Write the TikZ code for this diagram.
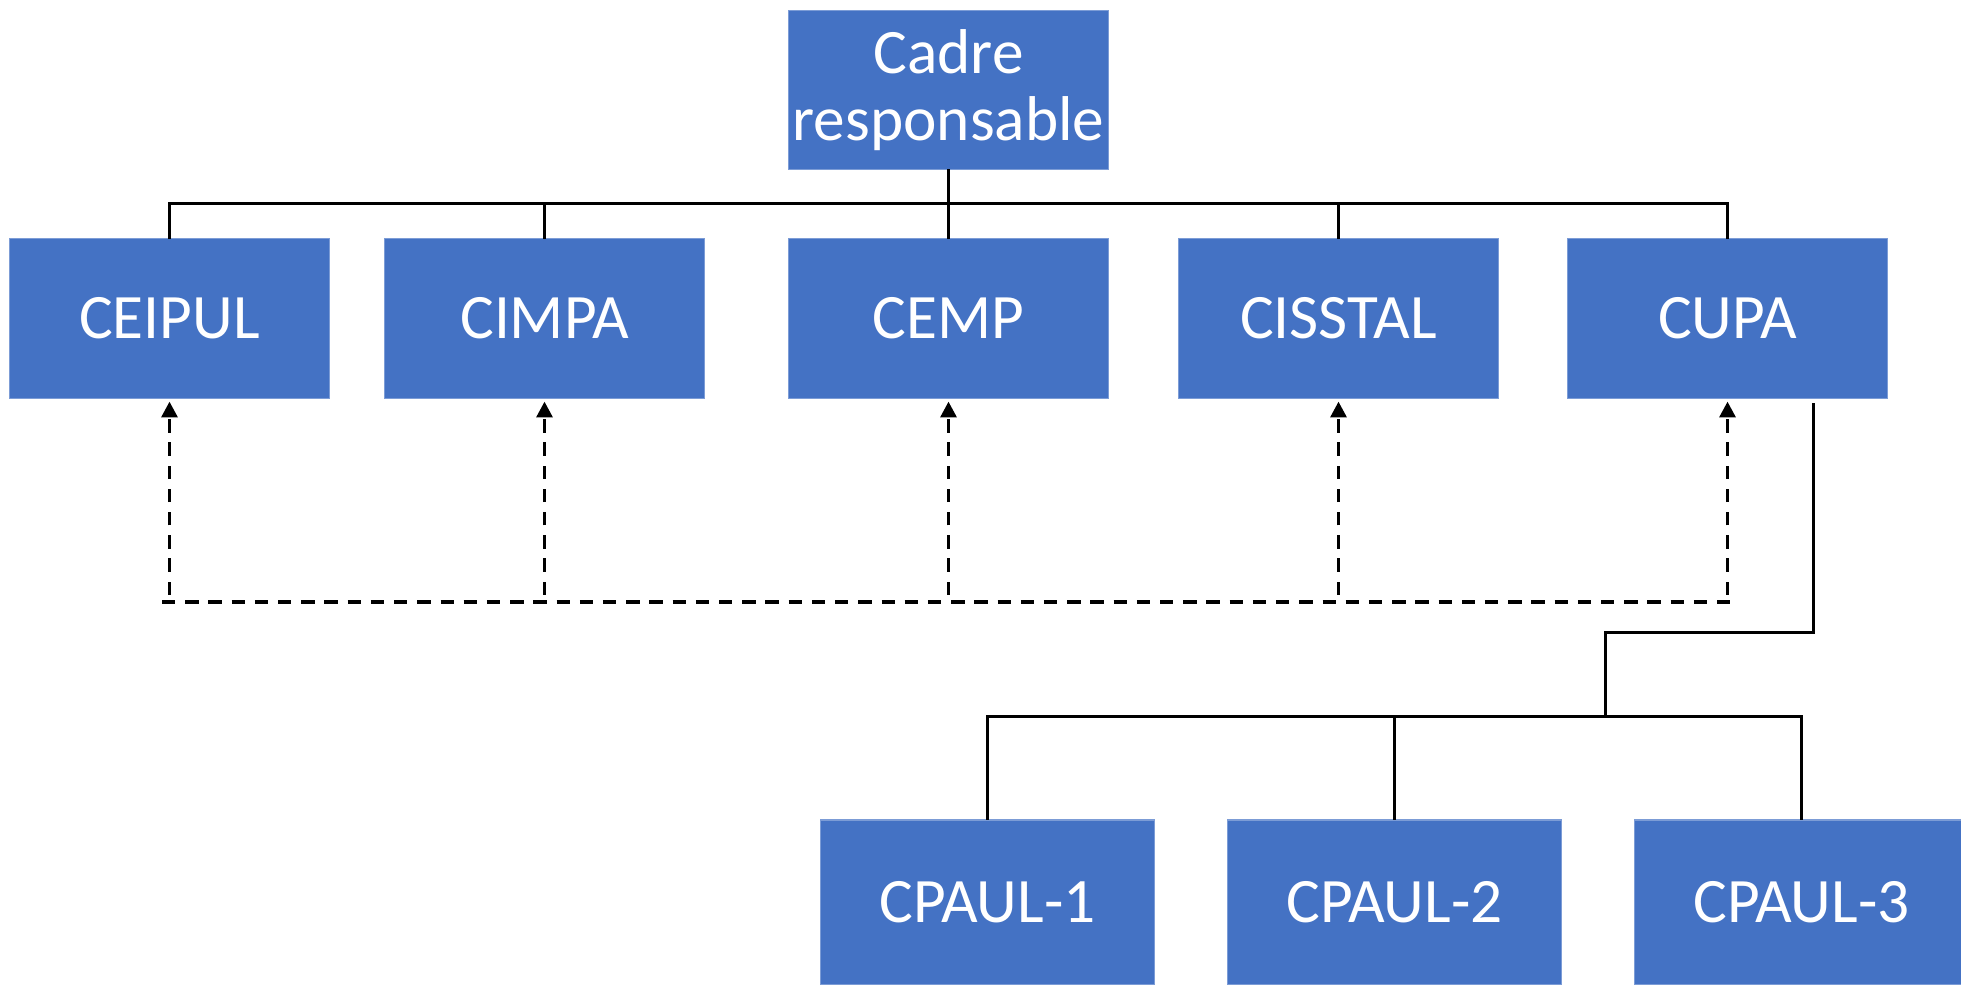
\documentclass[tikz,border=0pt]{standalone}
\usepackage{fontspec}
\setmainfont{Carlito}
\usepackage{tikz}
\usetikzlibrary{arrows.meta}
\definecolor{unitblue}{HTML}{4472C4}
\tikzset{
  blk/.style={fill=unitblue,draw=unitblue!70!white,line width=0.3pt,text=white,
    font=\fontsize{18}{19}\selectfont,align=center,inner sep=0pt,outer sep=0pt,
    minimum width=3.19cm,minimum height=1.59cm},
  link/.style={line width=0.85pt,black},
  dlink/.style={line width=1pt,black,dash pattern=on 3.8pt off 2.8pt},
}
\begin{document}
\begin{tikzpicture}[x=0.01cm,y=-0.01cm]
  \useasboundingbox (0,0) rectangle (1961,984);
  \node[blk,minimum height=1.58cm] (cadre) at (948.5,90) {Cadre\\responsable};
  \node[blk] (ceipul)  at (169.5,318.5) {CEIPUL};
  \node[blk] (cimpa)   at (544.5,318.5) {CIMPA};
  \node[blk] (cemp)    at (948.5,318.5) {CEMP};
  \node[blk] (cisstal) at (1338.5,318.5) {CISSTAL};
  \node[blk] (cupa)    at (1727.5,318.5) {CUPA};
  \node[blk,minimum width=3.33cm,minimum height=1.64cm] (cpaul1) at (987.5,902) {CPAUL-1};
  \node[blk,minimum width=3.33cm,minimum height=1.64cm] (cpaul2) at (1394.5,902) {CPAUL-2};
  \node[blk,minimum width=3.33cm,minimum height=1.64cm] (cpaul3) at (1801.5,902) {CPAUL-3};
  % hierarchy
  \draw[link] (ceipul.north) -- ++(0,-35) -| (cupa.north);
  \foreach \n in {cimpa,cisstal}
    \draw[link] (\n.north) -- ++(0,-35);
  \draw[link] (cadre.south) -- (cemp.north);
  % coordination
  \coordinate (dl) at (162,602);
  \coordinate (dr) at (1731,602);
  \draw[dlink] (dl) -- (dr);
  \foreach \n in {ceipul,cimpa,cemp,cisstal,cupa}
    \draw[dlink,-{Triangle[length=4.5pt,width=4.5pt]},shorten >=1pt,shorten <=2pt] (\n.south |- dl) -- (\n.south);
  % sub units of CUPA
  \coordinate (cupaout) at (1813,403);
  \coordinate (hub) at (1605,716);
  \draw[link] (cupaout) -- ++(0,229) -| (hub);
  \draw[link] (cpaul1.north) -- (cpaul1.north |- hub) -- (cpaul3.north |- hub) -- (cpaul3.north);
  \draw[link] (cpaul2.north) -- (cpaul2.north |- hub);
\end{tikzpicture}
\end{document}
